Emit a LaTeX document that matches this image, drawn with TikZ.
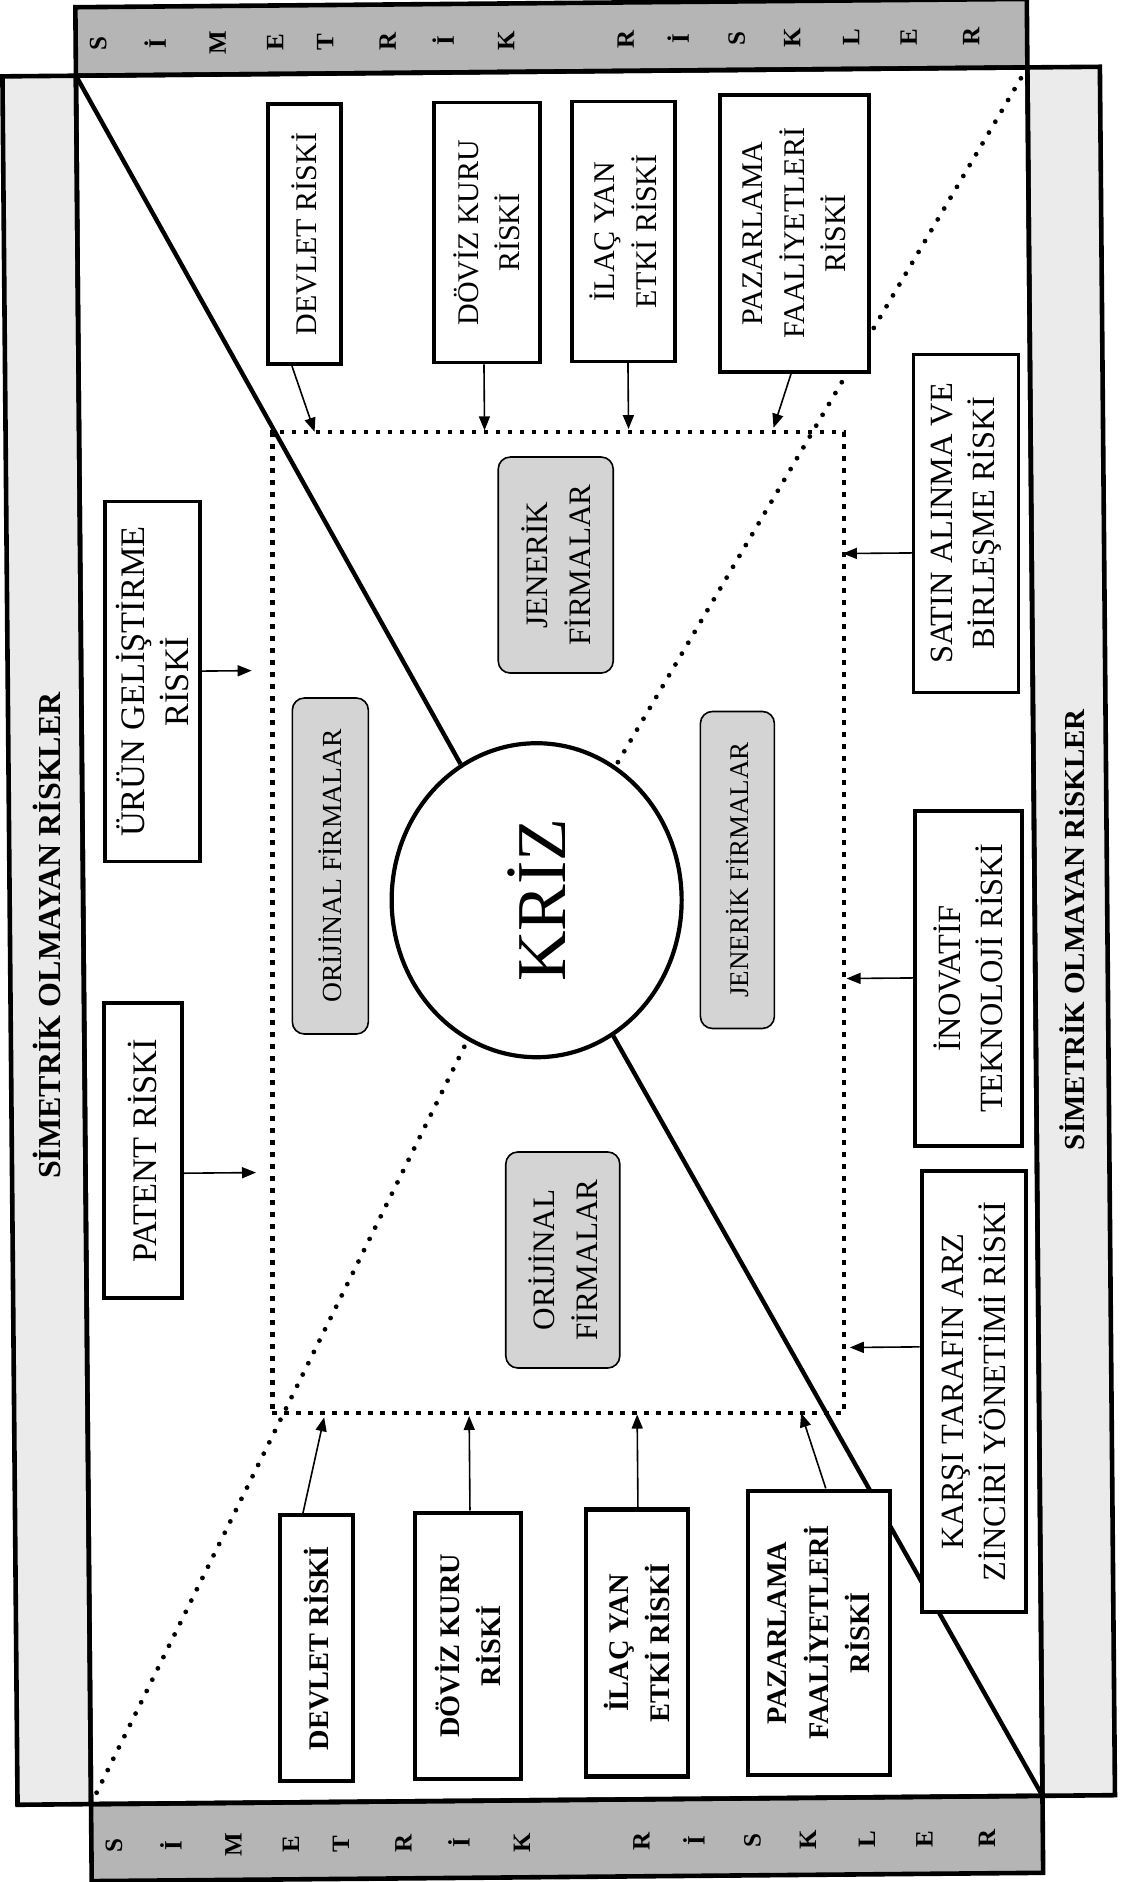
\documentclass[tikz,border=0pt]{standalone}
\usepackage{fontspec}
\setmainfont{Liberation Serif}
\usetikzlibrary{arrows.meta,shapes.geometric,calc}
\tikzset{
  framebox/.style={draw=black, line width=2.3pt},
  riskT/.style={draw, line width=1.8pt, fill=white, rotate=90, align=center, inner sep=1pt, font=\fontsize{15}{20.7}\selectfont},
  riskB/.style={riskT, line width=2.2pt, font=\bfseries\fontsize{14.2}{20.7}\selectfont},
  riskS/.style={riskT, font=\fontsize{16.2}{21}\selectfont},
  riskL/.style={riskT, font=\fontsize{17.2}{22}\selectfont},
  firm/.style={draw, line width=0.8pt, rounded corners=6pt, fill=black!17, rotate=90, align=center, inner sep=1pt},
  arr/.style={line width=0.8pt, -{Triangle[length=7pt,width=5.5pt]}},
  barletter/.style={rotate=90, font=\bfseries\fontsize{12.5}{13}\selectfont},
  soliddiag/.style={line width=2.2pt},
  dotdiag/.style={line width=2.4pt, line cap=round, dash pattern=on 0pt off 6.3pt},
  coredot/.style={draw, line width=2.3pt, dash pattern=on 2.3pt off 3.7pt, inner sep=0pt},
}
\begin{document}
\begin{tikzpicture}[x=0.5pt,y=-0.5pt]
\useasboundingbox (0,0) rectangle (1123,1882);
\begin{scope}[rotate around={0.5:(561,941)}]
% frame
\draw[framebox, fill=black!8] (10,71.5) rectangle (83.5,1800);
\draw[framebox, fill=black!8] (1035,71.5) rectangle (1107.5,1800);
\draw[framebox, fill=black!29] (83.5,3) rectangle (1035,71.5);
\draw[framebox, fill=black!29] (83.5,1800) rectangle (1035,1877);
\draw[framebox] (83.5,71.5) rectangle (1035,1800);
\coordinate (TL) at (83.5,71.5);
\coordinate (TR) at (1035,71.5);
\coordinate (BL) at (83.5,1800);
\coordinate (BR) at (1035,1800);
% bar letters
\foreach \xx/\ch [count=\i] in {106/S,163/İ,225.5/M,283/E,333/T,395.5/R,451/İ,514/K,633.5/R,686/İ,744.5/S,800/K,859/L,916.5/E,979/R} {
  \node[barletter] (topl\i) at (\xx,40) {\ch};
  \node[barletter] (botl\i) at (\xx,1842) {\ch};
}
% strip titles
\node[rotate=90, font=\bfseries\fontsize{16}{16}\selectfont] (lefttitle) at (47,931) {SİMETRİK OLMAYAN RİSKLER};
\node[rotate=90, font=\bfseries\fontsize{14.5}{14.5}\selectfont] (righttitle) at (1072,934) {SİMETRİK OLMAYAN RİSKLER};
% crisis
\node[ellipse, draw, line width=2.1pt, fill=white, rotate=90, minimum width=157pt, minimum height=145pt, inner sep=0pt, font=\fontsize{35}{35}\selectfont] (kriz) at (537,900) {KRİZ};
% diagonals
\draw[soliddiag] (TL) -- (kriz);
\draw[soliddiag] (BR) -- (kriz);
\draw[dotdiag] (TR) -- (kriz);
\draw[dotdiag] (BL) -- (kriz);
% core dotted rectangle
\node[coredot, minimum width=285.75pt, minimum height=490.5pt] (core) at (558.25,922.5) {};
% firm boxes
\node[firm, minimum width=168pt, minimum height=38pt, font=\fontsize{13.8}{18}\selectfont] (orjL) at (331,864) {ORİJİNAL FİRMALAR};
\node[firm, minimum width=108pt, minimum height=57.5pt, font=\fontsize{15.6}{21.5}\selectfont] (jenT) at (559,565) {JENERİK\\FİRMALAR};
\node[firm, minimum width=158.5pt, minimum height=37pt, font=\fontsize{13.5}{18}\selectfont] (jenR) at (738,871.5) {JENERİK FİRMALAR};
\node[firm, minimum width=108pt, minimum height=57pt, font=\fontsize{15.6}{21.5}\selectfont] (orjB) at (560,1260) {ORİJİNAL\\FİRMALAR};
% top risk boxes
\node[riskT, minimum width=130pt, minimum height=36.5pt] (devT) at (310.5,232) {DEVLET RİSKİ};
\node[riskT, minimum width=130pt, minimum height=53pt] (dovT) at (493,232) {DÖVİZ KURU\\RİSKİ};
\node[riskT, minimum width=130pt, minimum height=51.5pt] (ilacT) at (629.5,232) {İLAÇ YAN\\ETKİ RİSKİ};
\node[riskT, minimum width=138.5pt, minimum height=74.5pt] (pazT) at (800.5,235.5) {PAZARLAMA\\FAALİYETLERİ\\RİSKİ};
% bottom risk boxes
\node[riskB, minimum width=133pt, minimum height=36.5pt] (devB) at (310.5,1646) {DEVLET RİSKİ};
\node[riskB, minimum width=133pt, minimum height=53pt] (dovB) at (462,1645) {DÖVİZ KURU\\RİSKİ};
\node[riskB, minimum width=133.5pt, minimum height=51pt] (ilacB) at (631,1643.5) {İLAÇ YAN\\ETKİ RİSKİ};
\node[riskB, minimum width=142pt, minimum height=71pt] (pazB) at (813,1635) {PAZARLAMA\\FAALİYETLERİ\\RİSKİ};
% right risk boxes
\node[riskS, minimum width=169pt, minimum height=52.5pt] (satin) at (969.5,527) {SATIN ALINMA VE\\BİRLEŞME RİSKİ};
\node[riskS, minimum width=167.5pt, minimum height=53.5pt] (inov) at (968,982) {İNOVATİF\\TEKNOLOJİ RİSKİ};
\node[riskS, minimum width=220.5pt, minimum height=52pt] (karsi) at (970,1395) {KARŞI TARAFIN ARZ\\ZİNCİRİ YÖNETİMİ RİSKİ};
% left risk boxes
\node[riskL, minimum width=180pt, minimum height=47.5pt] (urun) at (155,678) {ÜRÜN GELİŞTİRME\\RİSKİ};
\node[riskL, minimum width=147.5pt, minimum height=39pt] (patent) at (141,1147) {PATENT RİSKİ};
% arrows top
\draw[arr] (devT.west -| 297,362) -- (core.north -| 319,432);
\draw[arr] (dovT.west -| 489,362) -- (core.north -| 489,432);
\draw[arr] (ilacT.west -| 633,362) -- (core.north -| 633,432);
\draw[arr] (pazT.west -| 796,374) -- (core.north -| 778,432);
% arrows bottom
\draw[arr] (devB.east -| 298,1513) -- (core.south -| 320,1413);
\draw[arr] (dovB.east -| 465,1512) -- (core.south -| 465,1413);
\draw[arr] (ilacB.east -| 633,1510) -- (core.south -| 633,1413);
\draw[arr] (pazB.east -| 821,1493) -- (core.south -| 797,1413);
% arrows right
\draw[arr] (satin.north |- 918,556) -- (core.east |- 844,556);
\draw[arr] (inov.north |- 914,981) -- (core.east |- 844,981);
\draw[arr] (karsi.north |- 918,1350) -- (core.east |- 844,1350);
% arrows left
\coordinate (uEnd) at (254,668);
\coordinate (pEnd) at (254,1170);
\draw[arr] (urun.south |- uEnd) -- (uEnd);
\draw[arr] (patent.south |- pEnd) -- (pEnd);
\end{scope}
\end{tikzpicture}
\end{document}
